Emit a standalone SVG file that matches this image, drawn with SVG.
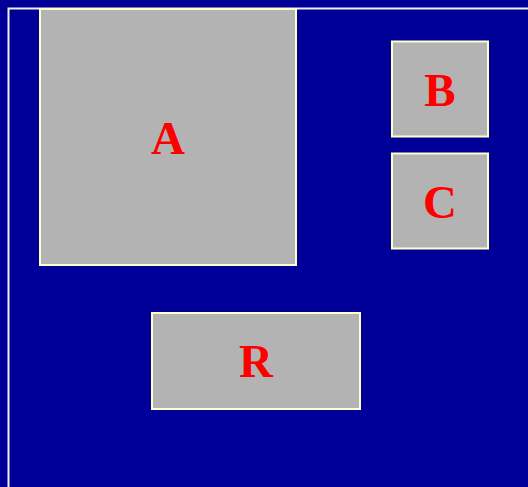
<svg xmlns="http://www.w3.org/2000/svg" width="528" height="487" viewBox="0 0 528 487">
<style>
.box{fill:#b3b3b3;stroke:#ffffcc;stroke-width:2}
.lbl{fill:#ff0000;font-family:"Liberation Serif","Times New Roman",serif;font-weight:bold;font-size:47px;text-anchor:middle}
</style>
<rect x="0" y="0" width="528" height="487" fill="#000099"/>
<path d="M8.5,487 V8.5 H528" fill="none" stroke="#f0f0e8" stroke-width="2"/>
<g id="A"><rect class="box" x="40" y="9" width="256" height="256"/><text class="lbl" x="168" y="154">A</text></g>
<g id="B"><rect class="box" x="392" y="41.5" width="96" height="95"/><text class="lbl" x="440" y="106">B</text></g>
<g id="C"><rect class="box" x="392" y="153.5" width="96" height="95"/><text class="lbl" x="440" y="218">C</text></g>
<g id="R"><rect class="box" x="152" y="313" width="208" height="96"/><text class="lbl" x="256" y="377">R</text></g>
<g id="connectors"></g>
</svg>
